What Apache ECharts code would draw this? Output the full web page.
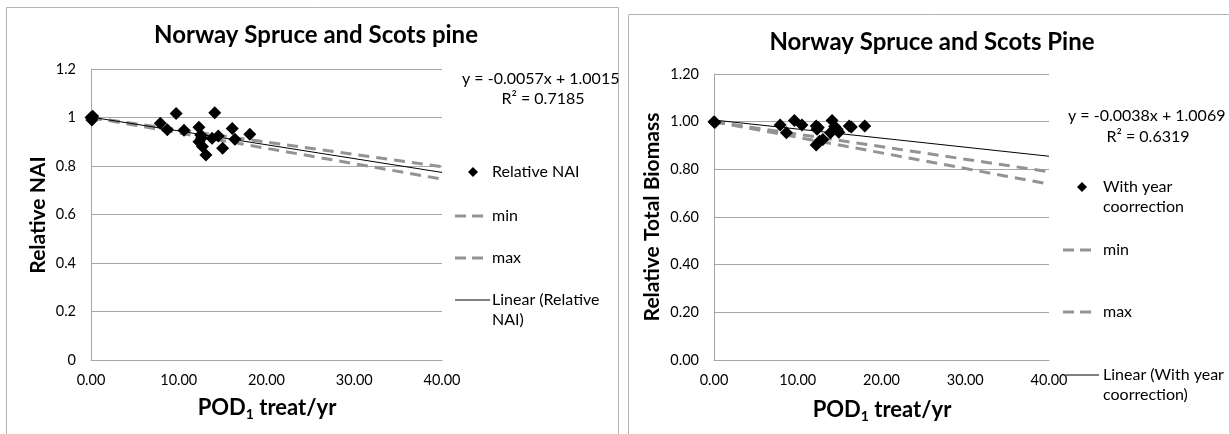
<!DOCTYPE html>
<html>
<head>
<meta charset="utf-8">
<script src="https://cdn.jsdelivr.net/npm/echarts/dist/echarts.min.js"></script>
<style>
html,body{margin:0;padding:0;background:#fff;}
#c{width:1229px;height:434px;}
</style>
</head>
<body>
<div id="c"></div>
<script>
// ---- Data ----
const xTicks = [0, 10, 20, 30, 40];
const yTicks = [0, 0.2, 0.4, 0.6, 0.8, 1.0, 1.2];

// Left panel: Relative NAI vs POD1
const leftX = [0, 0.1, 0.2, 7.9, 8.7, 9.7, 10.6, 12.3, 12.5, 12.6, 12.3, 12.7, 13.1, 14.1, 13.8, 14.5, 15.0, 16.1, 16.4, 18.1];
const leftY = [1.0, 0.99, 1.005, 0.976, 0.95, 1.017, 0.947, 0.96, 0.928, 0.915, 0.90, 0.88, 0.845, 1.02, 0.914, 0.924, 0.873, 0.955, 0.91, 0.931];
const leftTrendCoef = [-0.0057, 1.0015];   // slope, intercept
const lineX = [0, 40];
const leftMinLine = [1.0, 0.797];
const leftMaxLine = [1.0, 0.746];

// Right panel: Relative Total Biomass vs POD1
const rightX = [0, 0.1, 7.9, 8.65, 9.6, 10.5, 12.2, 12.3, 12.45, 12.2, 12.6, 13.0, 14.1, 13.9, 14.4, 14.7, 14.9, 16.15, 16.4, 18.0];
const rightY = [1.0, 0.996, 0.986, 0.954, 1.005, 0.986, 0.982, 0.968, 0.976, 0.902, 0.918, 0.925, 1.005, 0.954, 0.98, 0.968, 0.956, 0.982, 0.978, 0.982];
const rightTrendCoef = [-0.0038, 1.0069];
const rightMinLine = [1.0, 0.79];
const rightMaxLine = [1.0, 0.738];

// ---- Build ----
const F = 'Lato, "Open Sans", sans-serif';
const GRID = '#a6a6a6';
const DASH = '#939393';
const TXT = 16;

const pts = (xs, ys) => xs.map((x, i) => [x, ys[i]]);
const trend = c => lineX.map(x => [x, c[0] * x + c[1]]);

function xAxis(gi) {
  return {
    type: 'value', gridIndex: gi, min: xTicks[0], max: xTicks[xTicks.length - 1], interval: 10,
    axisLine: {show: true, lineStyle: {color: GRID, width: 1}},
    axisTick: {show: false}, splitLine: {show: false},
    axisLabel: {margin: 13, fontFamily: F, fontSize: 14.5, color: '#000', formatter: v => v.toFixed(2)}
  };
}
function yAxis(gi, fmt) {
  return {
    type: 'value', gridIndex: gi, min: yTicks[0], max: yTicks[yTicks.length - 1], interval: 0.2,
    axisLine: {show: true, lineStyle: {color: GRID, width: 1}},
    axisTick: {show: false},
    splitLine: {show: true, lineStyle: {color: GRID, width: 1}},
    axisLabel: {margin: 15, fontFamily: F, fontSize: 14.5, color: '#000', formatter: fmt}
  };
}
function scatter(gi, data, name) {
  return {type: 'scatter', name, xAxisIndex: gi, yAxisIndex: gi, data, symbol: 'diamond', symbolSize: 13,
    itemStyle: {color: '#000', opacity: 1}, z: 5, silent: true, animation: false};
}
function dashed(gi, ys, name) {
  return {type: 'line', name, xAxisIndex: gi, yAxisIndex: gi, data: pts(lineX, ys), showSymbol: false, symbol: 'none',
    lineStyle: {color: DASH, width: 3, type: [11, 7]}, z: 3, silent: true, animation: false};
}
function trendLine(gi, coef, name) {
  return {type: 'line', name, xAxisIndex: gi, yAxisIndex: gi, data: trend(coef), showSymbol: false, symbol: 'none',
    lineStyle: {color: '#000', width: 1}, z: 4, silent: true, animation: false};
}

function text(x, y, t, opts) {
  return Object.assign({type: 'text', x, y, silent: true,
    style: Object.assign({text: t, fontFamily: F, fontSize: TXT, fill: '#000', align: 'left', verticalAlign: 'middle'}, opts || {})});
}
function diamond(cx, cy, r) {
  return {type: 'polygon', silent: true, shape: {points: [[cx, cy - r], [cx + r, cy], [cx, cy + r], [cx - r, cy]]}, style: {fill: '#000'}};
}
function legLine(x1, x2, y, dash, color, w) {
  return {type: 'line', silent: true, shape: {x1, y1: y, x2, y2: y}, style: {stroke: color, lineWidth: w, lineDash: dash}};
}
function xTitle(cx, cy) {
  return {type: 'text', x: cx, y: cy, silent: true, style: {
    text: '{b|POD}{s|1}{b| treat/yr}', align: 'center', verticalAlign: 'middle',
    rich: {
      b: {fontFamily: F, fontSize: 22, fontWeight: 'bold', fill: '#000', lineHeight: 24, verticalAlign: 'top'},
      s: {fontFamily: F, fontSize: 14, fontWeight: 'bold', fill: '#000', lineHeight: 24, padding: [7, 0, 0, 0], verticalAlign: 'bottom'}
    }}};
}
function yTitle(cx, cy, t) {
  return {type: 'text', x: cx, y: cy, rotation: Math.PI / 2, silent: true,
    style: {text: t, fontFamily: F, fontSize: 21, fontWeight: 'bold', fill: '#000', align: 'center', verticalAlign: 'middle'}};
}
function title(cx, cy, t) {
  return {type: 'text', x: cx, y: cy, silent: true,
    style: {text: t, fontFamily: F, fontSize: 24, fontWeight: 'bold', fill: '#000', align: 'center', verticalAlign: 'middle'}};
}

const graphics = [
  // frames
  {type: 'rect', silent: true, shape: {x: 6.5, y: 7.5, width: 612, height: 460}, style: {fill: 'none', stroke: '#b4b4b4', lineWidth: 1}},
  {type: 'rect', silent: true, shape: {x: 628.5, y: 14.5, width: 640, height: 460}, style: {fill: 'none', stroke: '#b4b4b4', lineWidth: 1}},
  // titles
  title(316, 35, 'Norway Spruce and Scots pine'),
  title(932, 42, 'Norway Spruce and Scots Pine'),
  yTitle(38, 215, 'Relative NAI'),
  yTitle(652, 217, 'Relative Total Biomass'),
  xTitle(267, 409),
  xTitle(882, 411),
  // left equation
  text(462, 79, 'y = -0.0057x + 1.0015'),
  text(543, 99, 'R\u00b2 = 0.7185', {align: 'center'}),
  // left legend
  diamond(473, 172, 5),
  text(492, 172, 'Relative NAI'),
  legLine(455, 486, 216, [11, 6], DASH, 3),
  text(492, 216, 'min'),
  legLine(455, 486, 258, [11, 6], DASH, 3),
  text(492, 258, 'max'),
  legLine(455, 490, 300, null, '#000', 1),
  text(492, 290, 'Linear (Relative\nNAI)', {verticalAlign: 'top', lineHeight: 20}),
  // right equation
  text(1068, 116, 'y = -0.0038x + 1.0069'),
  text(1148, 137, 'R\u00b2 = 0.6319', {align: 'center'}),
  // right legend
  diamond(1082, 187, 5),
  text(1103, 177, 'With year\ncoorrection', {verticalAlign: 'top', lineHeight: 20}),
  legLine(1063, 1093, 250, [11, 6], DASH, 3),
  text(1103, 250, 'min'),
  legLine(1063, 1093, 312, [11, 6], DASH, 3),
  text(1103, 312, 'max'),
  legLine(1066, 1099, 375, null, '#000', 1),
  text(1103, 365, 'Linear (With year\ncoorrection)', {verticalAlign: 'top', lineHeight: 20})
];

const chart = echarts.init(document.getElementById('c'), null, {renderer: 'canvas'});
chart.setOption({
  backgroundColor: '#fff',
  animation: false,
  grid: [
    {left: 91, top: 69, width: 351, height: 291},
    {left: 714, top: 74, width: 335, height: 286}
  ],
  xAxis: [xAxis(0), xAxis(1)],
  yAxis: [
    yAxis(0, v => String(+v.toFixed(1))),
    yAxis(1, v => v.toFixed(2))
  ],
  series: [
    dashed(0, leftMinLine, 'min'),
    dashed(0, leftMaxLine, 'max'),
    trendLine(0, leftTrendCoef, 'Linear (Relative NAI)'),
    scatter(0, pts(leftX, leftY), 'Relative NAI'),
    dashed(1, rightMinLine, 'min'),
    dashed(1, rightMaxLine, 'max'),
    trendLine(1, rightTrendCoef, 'Linear (With year coorrection)'),
    scatter(1, pts(rightX, rightY), 'With year coorrection')
  ],
  graphic: graphics
});
</script>
</body>
</html>
